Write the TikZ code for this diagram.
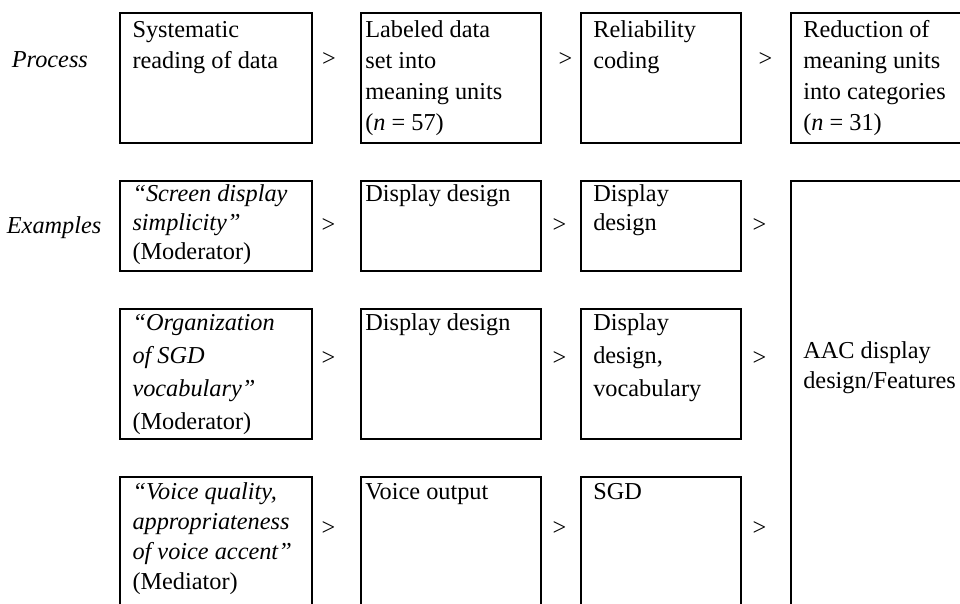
\documentclass[tikz,border=0pt]{standalone}
\usepackage{fontspec}
\setmainfont{Liberation Serif}
\usepackage{tikz}
\usetikzlibrary{positioning}
\tikzset{cell/.style={draw, line width=2pt, outer sep=0pt, inner ysep=0pt, inner xsep=#1, anchor=north west}}
\tikzset{gt/.style={draw=none, inner sep=0pt, anchor=base}}
\tikzset{rowlabel/.style={draw=none, inner sep=0pt, anchor=base west, font=\fontsize{24.3}{30}\selectfont\itshape}}
% height, width, line skip, first baseline, text
\newcommand{\celltext}[5]{\parbox[t][#1][t]{#2}{\fontsize{24.3}{#3}\selectfont\raggedright\rule{0pt}{#4}#5}}

\begin{document}
\begin{tikzpicture}[x=1pt, y=-1pt, every node/.style={font=\fontsize{24.3}{30}\selectfont}]
            \clip (0,0) rectangle (960,603);

            % process row
            \node[rowlabel] (process) at (11.7,67) {Process};
            \node[cell=13pt] (b11) at (119.5,12.7) {\celltext{130.6pt}{166.2pt}{31pt}{24.5pt}{Systematic\\reading of data}};
            \node[cell=4.6pt, right=49pt of b11] (b12) {\celltext{130.6pt}{171.1pt}{31pt}{24.5pt}{Labeled data\\set into\\meaning units\\(\textit{n} = 57)}};
            \node[cell=12.6pt, right=39.7pt of b12] (b13) {\celltext{130.6pt}{135.1pt}{31pt}{24.5pt}{Reliability\\coding}};
            \node[cell=12.6pt, right=49.7pt of b13] (b14) {\celltext{130.6pt}{159.1pt}{31pt}{24.5pt}{Reduction of\\meaning units\\into categories\\(\textit{n} = 31)}};
            \node[gt] (g11) at (329,66) {>};
            \node[gt] (g12) at (565.5,66) {>};
            \node[gt] (g13) at (765.5,66) {>};

            % examples, first
            \node[rowlabel] (examples) at (6.7,233) {Examples};
            \node[cell=13pt] (b21) at (119.5,180.7) {\celltext{90.3pt}{166.2pt}{29pt}{21pt}{\textit{“Screen display}\\\textit{simplicity”}\\(Moderator)}};
            \node[cell=4.6pt, right=49pt of b21] (b22) {\celltext{90.3pt}{171.1pt}{29pt}{21pt}{Display design}};
            \node[cell=12.6pt, right=39.7pt of b22] (b23) {\celltext{90.3pt}{135.1pt}{29pt}{21pt}{Display\\design}};
            \node[gt] (g21) at (328.5,232) {>};
            \node[gt] (g22) at (559.5,232) {>};
            \node[gt] (g23) at (759.5,232) {>};

            % examples, second
            \node[cell=13pt] (b31) at (119.5,309) {\celltext{130.3pt}{166.2pt}{33pt}{21pt}{\textit{“Organization}\\\textit{of SGD}\\\textit{vocabulary”}\\(Moderator)}};
            \node[cell=4.6pt, right=49pt of b31] (b32) {\celltext{130.3pt}{171.1pt}{33pt}{21pt}{Display design}};
            \node[cell=12.6pt, right=39.7pt of b32] (b33) {\celltext{130.3pt}{135.1pt}{33pt}{21pt}{Display\\design,\\vocabulary}};
            \node[gt] (g31) at (328.5,365) {>};
            \node[gt] (g32) at (559.5,365) {>};
            \node[gt] (g33) at (759.5,365) {>};

            % examples, third
            \node[cell=13pt] (b41) at (119.5,476.7) {\celltext{138.3pt}{166.2pt}{30pt}{22.5pt}{\textit{“Voice quality,}\\\textit{appropriateness}\\\textit{of voice accent”}\\(Mediator)}};
            \node[cell=4.6pt, right=49pt of b41] (b42) {\celltext{138.3pt}{171.1pt}{30pt}{22.5pt}{Voice output}};
            \node[cell=12.6pt, right=39.7pt of b42] (b43) {\celltext{138.3pt}{135.1pt}{30pt}{22.5pt}{SGD}};
            \node[gt] (g41) at (328.5,535) {>};
            \node[gt] (g42) at (559.5,535) {>};
            \node[gt] (g43) at (759.5,535) {>};

            % common category
            \node[cell=12.6pt] (aac) at (790.7,180.7) {\celltext{434.3pt}{159.1pt}{30pt}{178pt}{AAC display\\design/Features}};
        \end{tikzpicture}
\end{document}
